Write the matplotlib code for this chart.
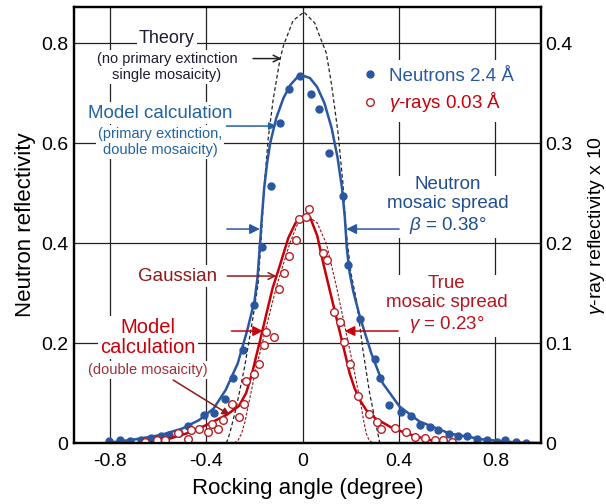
import matplotlib
matplotlib.use('Agg')
import matplotlib.pyplot as plt

plt.rcParams['font.family'] = ['Liberation Sans', 'DejaVu Sans']
plt.rcParams['mathtext.fontset'] = 'custom'
plt.rcParams['mathtext.it'] = 'Liberation Sans:italic'
plt.rcParams['mathtext.rm'] = 'Liberation Sans'

# neutron measurements (left axis)
neutron_x = [-0.804, -0.759, -0.718, -0.673, -0.631, -0.589, -0.556, -0.515, -0.478, -0.410,
             -0.368, -0.322, -0.289, -0.250, -0.203, -0.171, -0.130, -0.093, -0.058, -0.012,
             0.035, 0.068, 0.108, 0.166, 0.188, 0.239, 0.299, 0.320, 0.358, 0.409,
             0.451, 0.488, 0.527, 0.562, 0.606, 0.645, 0.683, 0.725, 0.766, 0.806,
             0.838, 0.887, 0.925]
neutron_y = [0.004, 0.006, 0.005, 0.007, 0.011, 0.014, 0.017, 0.021, 0.034, 0.056,
             0.061, 0.089, 0.131, 0.186, 0.277, 0.393, 0.515, 0.641, 0.709, 0.734,
             0.699, 0.669, 0.581, 0.494, 0.356, 0.249, 0.169, 0.131, 0.076, 0.063,
             0.054, 0.037, 0.033, 0.027, 0.019, 0.015, 0.014, 0.009, 0.006, 0.003,
             0.006, 0.003, 0.001]

# neutron model calculation
nmodel_x = [-0.80, -0.70, -0.59, -0.50, -0.43, -0.37, -0.32, -0.27, -0.23, -0.20,
            -0.188, -0.178, -0.170, -0.160, -0.148, -0.135, -0.11, -0.08, -0.05, -0.02,
            0.0, 0.03, 0.06, 0.09, 0.12, 0.145, 0.163, 0.175, 0.183, 0.195,
            0.21, 0.237, 0.285, 0.333, 0.402, 0.485, 0.61, 0.75, 0.89, 0.98]
nmodel_y = [0.001, 0.007, 0.016, 0.029, 0.046, 0.069, 0.106, 0.159, 0.226, 0.285,
            0.33, 0.394, 0.45, 0.51, 0.56, 0.60, 0.65, 0.69, 0.717, 0.733,
            0.735, 0.730, 0.712, 0.68, 0.63, 0.57, 0.51, 0.45, 0.39, 0.34,
            0.303, 0.253, 0.179, 0.119, 0.073, 0.043, 0.019, 0.007, 0.001, 0.0]

# theory (no primary extinction, single mosaicity)
theory_x = [-0.317, -0.303, -0.275, -0.241, -0.206, -0.185, -0.171, -0.160, -0.144, -0.123,
            -0.095, -0.08, -0.04, 0.005, 0.05, 0.071, 0.098, 0.119, 0.147, 0.167,
            0.181, 0.20, 0.223, 0.25, 0.278, 0.306, 0.32]
theory_y = [0.0, 0.019, 0.073, 0.153, 0.253, 0.319, 0.42, 0.513, 0.606, 0.686,
            0.766, 0.795, 0.845, 0.862, 0.84, 0.813, 0.78, 0.719, 0.619, 0.519,
            0.419, 0.34, 0.286, 0.186, 0.099, 0.033, 0.0]

# gamma-ray measurements (right axis)
gamma_x = [-0.653, -0.604, -0.573, -0.517, -0.478, -0.465, -0.430, -0.393, -0.376, -0.351,
           -0.331, -0.292, -0.264, -0.243, -0.234, -0.202, -0.181, -0.160, -0.151, -0.120,
           -0.098, -0.078, -0.057, -0.030, -0.017, 0.015, 0.026, 0.084, 0.102, 0.130,
           0.154, 0.170, 0.198, 0.230, 0.275, 0.310, 0.327, 0.382, 0.430, 0.465,
           0.506, 0.548, 0.582, 0.621]
gamma_y = [0.0015, 0.0035, 0.0035, 0.0105, 0.0045, 0.013, 0.014, 0.0115, 0.019, 0.0145,
           0.023, 0.039, 0.0265, 0.039, 0.062, 0.069, 0.0795, 0.098, 0.1115, 0.1065,
           0.1545, 0.1705, 0.1875, 0.2035, 0.224, 0.2265, 0.2345, 0.1905, 0.1835, 0.1315,
           0.1215, 0.1015, 0.0795, 0.0475, 0.0295, 0.0215, 0.014, 0.0155, 0.0115, 0.0065,
           0.0055, 0.003, 0.0035, 0.0015]

# gamma model calculation (double mosaicity)
gmodel_x = [-0.649, -0.566, -0.483, -0.40, -0.317, -0.265, -0.235, -0.21, -0.19, -0.172,
            -0.15, -0.125, -0.095, -0.06, -0.03, 0.0, 0.015, 0.03, 0.06, 0.085,
            0.11, 0.13, 0.155, 0.175, 0.195, 0.215, 0.237, 0.265, 0.30, 0.375,
            0.472, 0.555]
gmodel_y = [0.0, 0.0035, 0.0095, 0.018, 0.028, 0.037, 0.05, 0.07, 0.09, 0.1075,
            0.13, 0.155, 0.1775, 0.205, 0.22, 0.2265, 0.2275, 0.226, 0.2075, 0.18,
            0.155, 0.135, 0.11, 0.09, 0.0695, 0.055, 0.043, 0.0325, 0.025, 0.0145,
            0.0065, 0.0015]

# gaussian
gauss_x = [-0.285, -0.268, -0.254, -0.240, -0.227, -0.192, -0.151, -0.109, -0.054, -0.02,
           0.02, 0.06, 0.098, 0.14, 0.181, 0.216, 0.243, 0.254, 0.264, 0.275, 0.29]
gauss_y = [0.0, 0.003, 0.0095, 0.021, 0.0365, 0.0765, 0.1165, 0.1565, 0.1995, 0.22,
           0.2275, 0.22, 0.1995, 0.1565, 0.1095, 0.0695, 0.0365, 0.021, 0.0095, 0.003, 0.0]

x_ticks = [-0.8, -0.4, 0, 0.4, 0.8]
x_labels = ['-0.8', '-0.4', '0', '0.4', '0.8']
left_ticks = [0, 0.2, 0.4, 0.6, 0.8]
left_labels = ['0', '0.2', '0.4', '0.6', '0.8']
right_ticks = [0, 0.1, 0.2, 0.3, 0.4]
right_labels = ['0', '0.1', '0.2', '0.3', '0.4']

BLUE = '#2a57a0'
BLUE_TXT = '#2163a0'
RED = '#c8000a'
DKRED = '#8e1b1b'

fig = plt.figure(figsize=(6.06, 5.04), dpi=100)
ax = fig.add_axes([0.122, 0.121, 0.771, 0.865])
ax2 = ax.twinx()

ax.set_xlim(-0.95, 0.99)
ax.set_ylim(0, 0.872)
ax2.set_ylim(0, 0.436)

ax.set_xticks(x_ticks)
ax.set_xticklabels(x_labels)
ax.set_yticks(left_ticks)
ax.set_yticklabels(left_labels)
ax2.set_yticks(right_ticks)
ax2.set_yticklabels(right_labels)
ax.tick_params(length=0, labelsize=14, pad=4)
ax.tick_params(axis='x', pad=7)
ax2.tick_params(length=0, labelsize=14, pad=3)

ax.grid(True, color='#222222', lw=0.9)
for a in (ax, ax2):
    for s in a.spines.values():
        s.set_linewidth(1.6)

ax.set_xlabel('Rocking angle (degree)', fontsize=16, labelpad=6)
ax.set_ylabel('Neutron reflectivity', fontsize=16, labelpad=4)
ax2.set_ylabel(r'$\gamma$-ray reflectivity x 10', fontsize=14, labelpad=10)

# neutron side
ax.plot(theory_x, theory_y, color='#222222', lw=0.9, ls=(0, (3, 2)))
ax.plot(nmodel_x, nmodel_y, color=BLUE, lw=1.8)
neu, = ax.plot(neutron_x, neutron_y, 'o', color=BLUE, ms=5, label='Neutrons 2.4 Å')

# gamma side
ax2.plot(gauss_x, gauss_y, color=DKRED, lw=0.8, ls=(0, (2.5, 1.5)))
ax2.plot(gmodel_x, gmodel_y, color=RED, lw=1.8)
gam, = ax2.plot(gamma_x, gamma_y, 'o', mfc='white', mec='#b52025', mew=1.0, ms=5.5,
                label=r'$\gamma$-rays 0.03 Å')

leg = ax2.legend(handles=[neu, gam], loc='upper left', bbox_to_anchor=(0.578, 0.90),
                 fontsize=13.5, handlelength=1, handletextpad=0.5, labelspacing=0.3,
                 frameon=True, fancybox=False, borderpad=0.4,
                 labelcolor=[BLUE, RED])
leg.get_frame().set_edgecolor('none')
leg.get_frame().set_facecolor('white')
leg.get_frame().set_alpha(1)

wb = dict(facecolor='white', edgecolor='none', pad=1.5)

ax.text(-0.564, 0.81, 'Theory', ha='center', va='center', fontsize=13, color='#1c1c34', bbox=wb)
ax.text(-0.564, 0.752, '(no primary extinction\nsingle mosaicity)', ha='center', va='center',
        fontsize=10.5, color='#1c1c34', linespacing=1.15, bbox=wb)
ax.text(-0.593, 0.66, 'Model calculation', ha='center', va='center', fontsize=13.5,
        color=BLUE_TXT, bbox=wb)
ax.text(-0.593, 0.602, '(primary extinction,\ndouble mosaicity)', ha='center', va='center',
        fontsize=10.5, color=BLUE_TXT, linespacing=1.15, bbox=wb)
ax.text(0.602, 0.474, 'Neutron\nmosaic spread\n' + r'$\beta$ = 0.38°', ha='center', va='center',
        fontsize=13.5, color='#1f4f8e', linespacing=1.2, bbox=wb)
ax.text(-0.519, 0.334, 'Gaussian', ha='center', va='center', fontsize=13.5, color=DKRED, bbox=wb)
ax.text(-0.643, 0.211, 'Model\ncalculation', ha='center', va='center', fontsize=14.5,
        color=RED, linespacing=1.1, bbox=wb)
ax.text(-0.643, 0.146, '(double mosaicity)', ha='center', va='center', fontsize=10.5,
        color='#a0303a', bbox=wb)
ax.text(0.598, 0.276, 'True\nmosaic spread\n' + r'$\gamma$ = 0.23°', ha='center', va='center',
        fontsize=13.5, color='#b8141e', linespacing=1.2, bbox=wb)

# arrows
def arrow(tail, tip, color, style='-|>', ms=12, lw=1.1):
    ax.annotate('', xy=tip, xytext=tail,
                arrowprops=dict(arrowstyle=style, color=color, lw=lw, mutation_scale=ms,
                                shrinkA=0, shrinkB=0))

arrow((-0.206, 0.769), (-0.088, 0.769), '#222222', style='->', ms=12)
arrow((-0.317, 0.634), (-0.109, 0.634), BLUE_TXT, ms=11)
arrow((-0.315, 0.428), (-0.178, 0.428), BLUE, ms=15)
arrow((0.40, 0.428), (0.181, 0.428), BLUE, ms=15)
arrow((-0.313, 0.334), (-0.109, 0.334), DKRED, style='->', ms=12)
arrow((-0.296, 0.224), (-0.165, 0.224), RED, ms=15)
arrow((0.396, 0.224), (0.174, 0.224), RED, ms=15)
arrow((-0.538, 0.126), (-0.303, 0.056), DKRED, ms=11)

fig.savefig('out.png', dpi=100)
